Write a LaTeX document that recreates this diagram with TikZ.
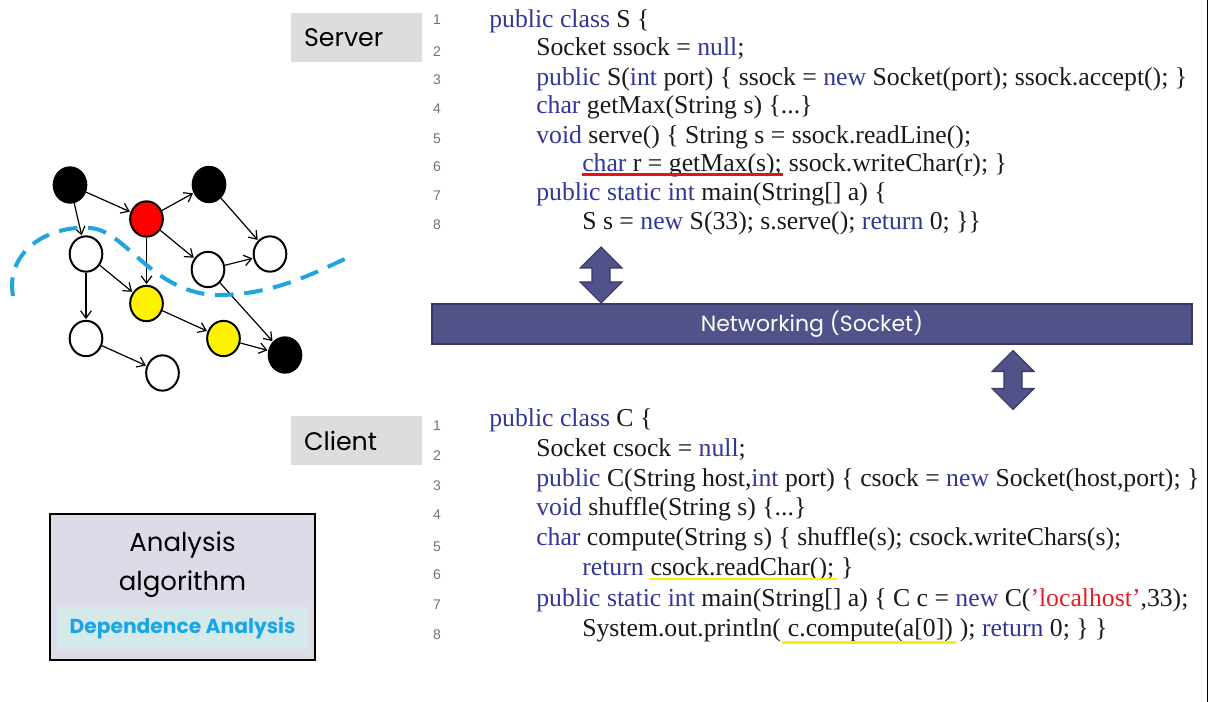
\documentclass[tikz,border=0pt]{standalone}
\usepackage{fontspec}
\setmainfont{Liberation Serif}
\newfontfamily\lblfont{Poppins}
\newfontfamily\numfont{Liberation Sans}
\usetikzlibrary{arrows.meta,shapes.geometric}

\definecolor{kwblue}{RGB}{50,55,150}
\definecolor{codeblack}{RGB}{25,25,25}
\definecolor{strred}{RGB}{230,30,40}
\definecolor{lblgray}{RGB}{221,221,221}
\definecolor{netblue}{RGB}{80,82,137}
\definecolor{netedge}{RGB}{55,57,100}
\definecolor{algbg}{RGB}{221,219,232}
\definecolor{depbg}{RGB}{213,232,234}
\definecolor{depblue}{RGB}{26,166,230}
\definecolor{cutblue}{RGB}{30,165,225}
\definecolor{numgray}{RGB}{115,115,115}
\definecolor{ulyellow}{RGB}{255,238,0}
\definecolor{ulred}{RGB}{228,20,20}

\newcommand\kw[1]{\textcolor{kwblue}{#1}}
% double-headed arrow: centre x, centre y, half length (pixel units)
\newcommand\sockarrow[3]{%
  \begin{scope}[shift={(#1,#2)}]
    \filldraw[fill=netblue, draw=netedge, line width=0.8pt]
      (0,-#3) -- (21,-#3+21) -- (9,-#3+21) -- (9,#3-21) -- (21,#3-21)
      -- (0,#3) -- (-21,#3-21) -- (-9,#3-21) -- (-9,-#3+21) -- (-21,-#3+21) -- cycle;
  \end{scope}}

\begin{document}
\begin{tikzpicture}[x=0.75pt, y=-0.75pt,
  gnode/.style={ellipse, draw=black, line width=1.5pt, minimum width=24.5pt, minimum height=26.5pt, inner sep=0pt},
  dep/.style={-{Straight Barb[length=5.5pt,width=8pt]}, line width=0.9pt, shorten >=0.5pt},
  codeline/.style={anchor=base west, inner sep=0pt, font=\fontsize{19.3}{22}\selectfont, text=codeblack},
  lnum/.style={inner sep=0pt, font=\numfont\fontsize{10.5}{12}\selectfont, text=numgray},
  tagbox/.style={fill=lblgray, inner xsep=9.75pt, inner ysep=0pt, text width=78.75pt, align=left,
    minimum height=36.75pt, font=\lblfont\fontsize{19}{22}\selectfont},
  lbl/.style={inner sep=0pt, font=\lblfont\fontsize{19.5}{22}\selectfont},
  ul/.style={line width=2.2pt}
]
\useasboundingbox (0,0) rectangle (1210,702);

% ---------- dependence graph ----------
\node[gnode, fill=black]  (b1) at (70,185) {};
\node[gnode, fill=red]    (r)  at (146.5,219) {};
\node[gnode, fill=black]  (b2) at (209,184.5) {};
\node[gnode, fill=white]  (w1) at (86,254) {};
\node[gnode, fill=white]  (w2) at (208,269.5) {};
\node[gnode, fill=white]  (w3) at (270,254) {};
\node[gnode, fill=yellow] (y1) at (146.5,303.5) {};
\node[gnode, fill=white]  (w4) at (86,338.5) {};
\node[gnode, fill=yellow] (y2) at (223.5,338.5) {};
\node[gnode, fill=black]  (b3) at (285,355) {};
\node[gnode, fill=white]  (w5) at (162.5,373) {};

\draw[dep] (b1) -- (r);
\draw[dep] (b1) -- (w1);
\draw[dep] (r) -- (b2);
\draw[dep] (r) -- (y1);
\draw[dep] (r) -- (w2);
\draw[dep] (b2) -- (w3);
\draw[dep] (w2) -- (w3);
\draw[dep] (w2) -- (b3);
\draw[dep] (w1) -- (y1);
\draw[dep] (w1) -- (w4);
\draw[dep] (y1) -- (y2);
\draw[dep] (y2) -- (b3);
\draw[dep] (w4) -- (w5);

% slicing cut
\draw[cutblue, line width=3pt, dash pattern=on 14pt off 8pt]
  (13,296) .. controls (5,250) and (50,225) .. (90,228)
  .. controls (125,230) and (150,290) .. (213,295)
  .. controls (270,296) and (310,275) .. (347,258);

% ---------- analysis box ----------
\node[draw=black, line width=2.2pt, fill=algbg, minimum width=198.75pt, minimum height=109.5pt, inner sep=0pt]
  (alg) at (182.5,587) {};
\node[lbl] (algA) at (182.5,545) {Analysis};
\node[lbl] (algB) at (182.5,584) {algorithm};
\node[fill=depbg, minimum width=188.25pt, minimum height=31.5pt, inner sep=0pt,
  font=\lblfont\bfseries\fontsize{15.2}{17}\selectfont, text=depblue]
  (dep) at (182.5,628) {Dependence Analysis};

% ---------- labels ----------
\node[tagbox] (srv) at (356.5,37.5) {Server};
\node[tagbox] (cli) at (356.5,440.5) {Client};

% ---------- network ----------
\node[fill=netblue, draw=netedge, line width=0.8pt, minimum width=570pt, minimum height=30pt, inner sep=0pt,
  text=white, font=\lblfont\fontsize{16.5}{18}\selectfont] (net) at (812,324) {Networking (Socket)};
\sockarrow{601}{275}{28}
\sockarrow{1013}{380}{29.5}

% ---------- line numbers ----------
\foreach \n/\yy in {1/20,2/52,3/80,4/109,5/139,6/167,7/196,8/225}
  \node[lnum] (sn\n) at (437,\yy) {\n};
\foreach \n/\yy in {1/426,2/456,3/486,4/515,5/547,6/575,7/605,8/635}
  \node[lnum] (cn\n) at (437,\yy) {\n};

% ---------- server code ----------
\node[codeline] (s1) at (489,28) {\kw{public class} S \{};
\node[codeline] (s2) at (536,56) {Socket ssock = \kw{null};};
\node[codeline] (s3) at (536,86) {\kw{public} S(\kw{int} port) \{ ssock = \kw{new} Socket(port); ssock.accept(); \}};
\node[codeline] (s4) at (536,114) {\kw{char} getMax(String s) \{...\}};
\node[codeline] (s5) at (536,144) {\kw{void} serve() \{ String s = ssock.readLine();};
\node[codeline] (s6a) at (582,172) {\kw{char} r = getMax(s);};
\node[codeline] (s6b) at ([xshift=4.8pt]s6a.base east) {ssock.writeChar(r); \}};
\node[codeline] (s7) at (536,201) {\kw{public static int} main(String[] a) \{};
\node[codeline] (s8) at (582,230) {S s = \kw{new} S(33); s.serve(); \kw{return} 0; \}\}};
\draw[ulred, ul] ([yshift=-2pt]s6a.base west) -- ([yshift=-2pt,xshift=1pt]s6a.base east);

% ---------- client code ----------
\node[codeline] (c1) at (489,426) {\kw{public class} C \{};
\node[codeline] (c2) at (536,456) {Socket csock = \kw{null};};
\node[codeline] (c3) at (536,486) {\kw{public} C(String host,\kw{int} port) \{ csock = \kw{new} Socket(host,port); \}};
\node[codeline] (c4) at (536,515) {\kw{void} shuffle(String s) \{...\}};
\node[codeline] (c5) at (536,545) {\kw{char} compute(String s) \{ shuffle(s); csock.writeChars(s);};
\node[codeline] (c6a) at (582,575) {\kw{return}};
\node[codeline] (c6b) at ([xshift=4.8pt]c6a.base east) {csock.readChar();};
\node[codeline] (c6c) at ([xshift=4.8pt]c6b.base east) {\}};
\node[codeline] (c7) at (536,606) {\kw{public static int} main(String[] a) \{ C c = \kw{new} C(\textcolor{strred}{'localhost'},33);};
\node[codeline] (c8a) at (582,636) {System.out.println(};
\node[codeline] (c8b) at ([xshift=4.8pt]c8a.base east) {c.compute(a[0])};
\node[codeline] (c8c) at ([xshift=4.8pt]c8b.base east) {); \kw{return} 0; \} \}};
\draw[ulyellow, ul] ([yshift=-3pt,xshift=-1pt]c6b.base west) -- ([yshift=-3pt,xshift=2pt]c6b.base east);
\draw[ulyellow, ul] ([yshift=-5pt,xshift=-4pt]c8b.base west) -- ([yshift=-5pt,xshift=2pt]c8b.base east);

% ---------- right frame edge ----------
\draw[line width=1.2pt] (1207.5,0) -- (1207.5,702);
\end{tikzpicture}
\end{document}
